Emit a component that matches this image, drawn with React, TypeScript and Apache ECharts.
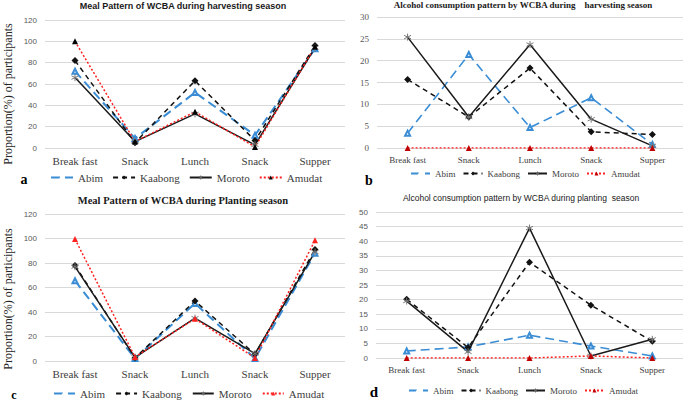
import React, { useEffect, useRef } from "react";
import * as echarts from "echarts";

const categories = ["Break fast", "Snack", "Lunch", "Snack", "Supper"];
const seriesNames = ["Abim", "Kaabong", "Moroto", "Amudat"];

// Panel a: Meal pattern, harvesting season
const mealHarvestAbim = [72, 9, 52, 12, 93];
const mealHarvestKaabong = [82, 5, 63, 7, 96];
const mealHarvestMoroto = [66, 6, 32, 3, 94];
const mealHarvestAmudat = [100, 6, 34, 1, 95];

// Panel b: Alcohol, harvesting season
const alcHarvestAbim = [3.4, 21.4, 4.7, 11.5, 0.8];
const alcHarvestKaabong = [15.7, 7.1, 18.3, 3.7, 3.1];
const alcHarvestMoroto = [25.4, 7.1, 23.7, 6.6, 0.5];
const alcHarvestAmudat = [0, 0, 0, 0, 0];

// Panel c: Meal pattern, planting season
const mealPlantAbim = [65.5, 2, 47, 2, 88];
const mealPlantKaabong = [78, 2.5, 49, 5.5, 91];
const mealPlantMoroto = [77, 3, 35, 6, 89];
const mealPlantAmudat = [99.5, 3.3, 34.5, 2.5, 98.5];

// Panel d: Alcohol, planting season
const alcPlantAbim = [2.4, 3.8, 7.8, 4.1, 0.7];
const alcPlantKaabong = [20.1, 3.6, 32.8, 18.1, 5.7];
const alcPlantMoroto = [19.5, 2.1, 44.5, 0.7, 6.4];
const alcPlantAmudat = [0, 0, 0, 0.7, 0];

const titles = [
  "Meal Pattern of WCBA during harvesting season",
  "Alcohol consumption pattern by WCBA during \u00a0\u00a0 harvesting season",
  "Meal Pattern of WCBA during Planting season",
  "Alcohol consumption pattern by WCBA during planting \u00a0season",
];
const panelLetters = ["a", "b", "c", "d"];
const yAxisTitle = "Proportion(%) of participants";

const BLUE = "#3a8dd4";
const RED = "#ff2020";
const SERIF = "'Liberation Serif', 'Times New Roman', serif";
const SANS = "'Liberation Sans', Arial, sans-serif";
const ASTERISK = "path://M0,-5L0,5M-4.3,-2.5L4.3,2.5M-4.3,2.5L4.3,-2.5";

export default function App() {
  const ref = useRef<HTMLDivElement>(null);
  useEffect(() => {
    if (!ref.current) return;
    const chart = echarts.init(ref.current, null, { renderer: "svg" });

    const panels = [
      { grid: { left: 45, top: 20, width: 300, height: 128 }, max: 120, interval: 20, tickFont: SANS, tickSize: 8, catSize: 11, data: [mealHarvestAbim, mealHarvestKaabong, mealHarvestMoroto, mealHarvestAmudat], amudatMarker: "#000" },
      { grid: { left: 377, top: 17, width: 306, height: 131 }, max: 30, interval: 5, tickFont: SERIF, tickSize: 9, catSize: 9, data: [alcHarvestAbim, alcHarvestKaabong, alcHarvestMoroto, alcHarvestAmudat], amudatMarker: "#c00000" },
      { grid: { left: 45, top: 214, width: 300, height: 147 }, max: 120, interval: 20, tickFont: SANS, tickSize: 8, catSize: 11, data: [mealPlantAbim, mealPlantKaabong, mealPlantMoroto, mealPlantAmudat], amudatMarker: RED },
      { grid: { left: 376, top: 212, width: 307, height: 146 }, max: 50, interval: 5, tickFont: SANS, tickSize: 8, catSize: 9, data: [alcPlantAbim, alcPlantKaabong, alcPlantMoroto, alcPlantAmudat], amudatMarker: "#c00000" },
    ];

    const grid: any[] = [];
    const xAxis: any[] = [];
    const yAxis: any[] = [];
    const series: any[] = [];

    panels.forEach((p, i) => {
      grid.push(p.grid);
      xAxis.push({
        type: "category",
        gridIndex: i,
        data: categories,
        boundaryGap: true,
        axisLine: { show: false },
        axisTick: { show: false },
        axisLabel: { fontFamily: SERIF, fontSize: p.catSize, color: "#404040", margin: 7, interval: 0 },
      });
      yAxis.push({
        type: "value",
        gridIndex: i,
        min: 0,
        max: p.max,
        interval: p.interval,
        axisLine: { show: false },
        axisTick: { show: false },
        axisLabel: { fontFamily: p.tickFont, fontSize: p.tickSize, color: "#595959", margin: 8 },
        splitLine: { lineStyle: { color: "#d9d9d9", width: 1 } },
      });
      const big = i === 0 || i === 2;
      series.push(
        {
          name: "Abim", type: "line", xAxisIndex: i, yAxisIndex: i, data: p.data[0],
          symbol: "emptyTriangle", symbolSize: 5,
          lineStyle: { color: BLUE, width: big ? 2 : 1.6, type: [9, 5] },
          itemStyle: { color: BLUE, borderColor: BLUE, borderWidth: 1 },
        },
        {
          name: "Kaabong", type: "line", xAxisIndex: i, yAxisIndex: i, data: p.data[1],
          symbol: "diamond", symbolSize: 7,
          lineStyle: { color: "#111", width: 1.5, type: [5, 4] },
          itemStyle: { color: "#111" },
        },
        {
          name: "Moroto", type: "line", xAxisIndex: i, yAxisIndex: i, data: p.data[2],
          symbol: ASTERISK, symbolSize: 7,
          lineStyle: { color: "#1a1a1a", width: 1.5, type: "solid" },
          itemStyle: { color: "none", borderColor: "#777", borderWidth: 1 },
        },
        {
          name: "Amudat", type: "line", xAxisIndex: i, yAxisIndex: i, data: p.data[3],
          symbol: "triangle", symbolSize: 6,
          lineStyle: { color: RED, width: 1.5, type: [2, 2] },
          itemStyle: { color: p.amudatMarker },
        }
      );
    });

    const legendDefs = [
      { left: 50, top: 172, fontSize: 11, itemWidth: 22, itemGap: 9, amudat: "#000" },
      { left: 410, top: 169, fontSize: 9, itemWidth: 19, itemGap: 7, amudat: "#c00000" },
      { left: 53, top: 388, fontSize: 11, itemWidth: 21, itemGap: 10, amudat: RED },
      { left: 408, top: 386, fontSize: 9, itemWidth: 19, itemGap: 7, amudat: "#c00000" },
    ];
    const legend = legendDefs.map((l) => ({
      left: l.left,
      top: l.top,
      padding: 0,
      itemWidth: l.itemWidth,
      itemHeight: 5,
      itemGap: l.itemGap,
      textStyle: { fontFamily: SERIF, fontSize: l.fontSize, color: "#404040" },
      data: seriesNames.map((n) => {
        if (n === "Amudat") return { name: n, itemStyle: { color: l.amudat } };
        if (n === "Moroto") return { name: n, itemStyle: { color: "#ffffff", borderColor: "#666", borderWidth: 1 } };
        if (n === "Abim") return { name: n, itemStyle: { color: "#ffffff", borderColor: BLUE, borderWidth: 1 } };
        return { name: n };
      }),
    }));

    const titlePos = [
      { x: 183, y: 6, font: `bold 9px ${SANS}` },
      { x: 523, y: 5, font: `bold 9px ${SERIF}` },
      { x: 183, y: 200, font: `bold 10.5px ${SERIF}` },
      { x: 521, y: 198, font: `8.5px ${SANS}` },
    ];
    const letterPos = [
      { x: 24, y: 179, size: 14 },
      { x: 369, y: 180, size: 14 },
      { x: 14, y: 395, size: 12 },
      { x: 374, y: 392, size: 15 },
    ];

    const graphic: any[] = [];
    titles.forEach((t, i) => {
      graphic.push({
        type: "text",
        x: titlePos[i].x,
        y: titlePos[i].y,
        style: { text: t, font: titlePos[i].font, fill: "#1a1a1a", textAlign: "center", textVerticalAlign: "middle", align: "center", verticalAlign: "middle" },
      });
    });
    panelLetters.forEach((t, i) => {
      graphic.push({
        type: "text",
        x: letterPos[i].x,
        y: letterPos[i].y,
        style: { text: t, font: `bold ${letterPos[i].size}px ${SERIF}`, fill: "#000", textAlign: "center", textVerticalAlign: "middle", align: "center", verticalAlign: "middle" },
      });
    });
    [94, 299].forEach((cy) => {
      graphic.push({
        type: "text",
        x: 8,
        y: cy,
        rotation: Math.PI / 2,
        style: { text: yAxisTitle, font: `12px ${SERIF}`, fill: "#262626", textAlign: "center", textVerticalAlign: "middle", align: "center", verticalAlign: "middle" },
      });
    });

    chart.setOption({
      animation: false,
      backgroundColor: "#ffffff",
      grid,
      xAxis,
      yAxis,
      series,
      legend,
      graphic,
    });
    return () => chart.dispose();
  }, []);

  return (
    <div
      ref={ref}
      style={{ position: "fixed", left: 0, top: 0, width: 685, height: 401 }}
    />
  );
}
